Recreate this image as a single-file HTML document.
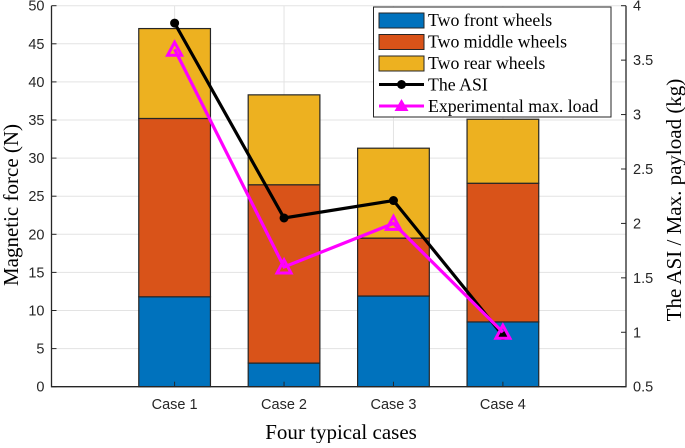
<!DOCTYPE html>
<html><head><meta charset="utf-8"><style>
body{margin:0;background:#fff}
svg text{font-family:"Liberation Sans",sans-serif}
.serif{font-family:"Liberation Serif",serif}
</style></head><body>
<svg id="chart" width="685" height="443" viewBox="0 0 685 443" xmlns="http://www.w3.org/2000/svg"></svg>
<script>
const categories=["Case 1","Case 2","Case 3","Case 4"];
const frontWheels=[11.8,3.1,11.9,8.5];
const middleWheels=[23.4,23.4,7.6,18.2];
const rearWheels=[11.8,11.8,11.8,8.4];
const asi=[3.84,2.05,2.21,0.97];
const maxLoad=[3.6,1.6,2.0,1.0];
const leftTicks=[0,5,10,15,20,25,30,35,40,45,50];
const rightTicks=[0.5,1,1.5,2,2.5,3,3.5,4];
const rightTickLabels=["0.5","1","1.5","2","2.5","3","3.5","4"];

const svg=document.getElementById('chart');
const NS="http://www.w3.org/2000/svg";
const L=51.5,R=626,T=5.7,B=386.7;
const xS=i=>L+(i+1.125)*(R-L)/5.25;
const yL=v=>B-(v/50)*(B-T);
const yR=v=>B-((v-0.5)/3.5)*(B-T);
function mk(tag,attrs,parent){const e=document.createElementNS(NS,tag);for(const k in attrs)e.setAttribute(k,attrs[k]);(parent||svg).appendChild(e);return e;}

leftTicks.forEach(v=>{const g=mk('line',{x1:L,x2:R,y1:yL(v),y2:yL(v),stroke:'#e3e3e3','stroke-width':1});

});
categories.forEach((c,i)=>{const g=mk('line',{x1:xS(i),x2:xS(i),y1:T,y2:B,stroke:'#e3e3e3','stroke-width':1});

});

const bw=71.7;
const colors=['#0072BD','#D95319','#EDB120'];
const series=[frontWheels,middleWheels,rearWheels];
const snames=['front','middle','rear'];
categories.forEach((c,i)=>{let base=0;series.forEach((s,k)=>{const y0=yL(base),y1=yL(base+s[i]);
const r=mk('rect',{x:xS(i)-bw/2,y:y1,width:bw,height:y0-y1,fill:colors[k],stroke:'#262626','stroke-width':1.2});


base+=s[i];});});

const ax=mk('path',{d:`M${L},${T}V${B}H${R}V${T}`,fill:'none',stroke:'#262626','stroke-width':1.3});


leftTicks.forEach(v=>{mk('line',{x1:L,x2:L+5,y1:yL(v),y2:yL(v),stroke:'#262626'});
const t=mk('text',{x:L-7,y:yL(v)+5,'text-anchor':'end','font-size':14.5,fill:'#262626'});t.textContent=v;

});
rightTicks.forEach((v,i)=>{mk('line',{x1:R-5,x2:R,y1:yR(v),y2:yR(v),stroke:'#262626'});
const t=mk('text',{x:R+7,y:yR(v)+5,'text-anchor':'start','font-size':14.5,fill:'#262626'});t.textContent=rightTickLabels[i];

});
categories.forEach((c,i)=>{mk('line',{x1:xS(i),x2:xS(i),y1:B,y2:B-5,stroke:'#262626'});
const t=mk('text',{x:xS(i),y:409,'text-anchor':'middle','font-size':14.5,fill:'#262626'});t.textContent=c;

});

function line(vals,color,marker,name){const pts=vals.map((v,i)=>xS(i)+','+yR(v)).join(' ');
const p=mk('polyline',{points:pts,fill:'none',stroke:color,'stroke-width':3.2});


vals.forEach((v,i)=>{const x=xS(i),y=yR(v);let m;
if(marker==='dot')m=mk('circle',{cx:x,cy:y,r:4.5,fill:color});
else m=mk('polygon',{points:`${x},${y-7} ${x-7},${y+6} ${x+7},${y+6}`,fill:'none',stroke:color,'stroke-width':3});

});}
line(asi,'#000','dot','asi');
line(maxLoad,'#FF00FF','tri','max-load');

const lg=mk('g',{});


mk('rect',{x:373.5,y:7,width:237.5,height:110,fill:'#fff',stroke:'#262626','stroke-width':1},lg);
const labels=['Two front wheels','Two middle wheels','Two rear wheels','The ASI','Experimental max. load'];
labels.forEach((lab,k)=>{const cy=20+k*21.5;
if(k<3)mk('rect',{x:379,y:cy-7,width:45,height:15,fill:colors[k],stroke:'#262626','stroke-width':1},lg);
else if(k===3){mk('line',{x1:379,x2:424,y1:cy,y2:cy,stroke:'#000','stroke-width':3},lg);mk('circle',{cx:401.5,cy:cy,r:4.5,fill:'#000'},lg);}
else{mk('line',{x1:379,x2:424,y1:cy,y2:cy,stroke:'#FF00FF','stroke-width':3},lg);mk('polygon',{points:`401.5,${cy-7} 394.5,${cy+5} 408.5,${cy+5}`,fill:'#FF00FF'},lg);}
const t=mk('text',{x:428,y:cy+6,'font-size':17.8,fill:'#000',class:'serif'},lg);t.textContent=lab;

});

let t=mk('text',{x:341,y:439,'text-anchor':'middle','font-size':21,class:'serif',fill:'#000'});t.textContent='Four typical cases';


t=mk('text',{x:0,y:0,'text-anchor':'middle','font-size':21,class:'serif',fill:'#000',transform:'translate(18,205) rotate(-90)'});t.textContent='Magnetic force (N)';


t=mk('text',{x:0,y:0,'text-anchor':'middle','font-size':21,class:'serif',fill:'#000',transform:'translate(681,200) rotate(-90)'});t.textContent='The ASI / Max. payload (kg)';


</script>
</body></html>
